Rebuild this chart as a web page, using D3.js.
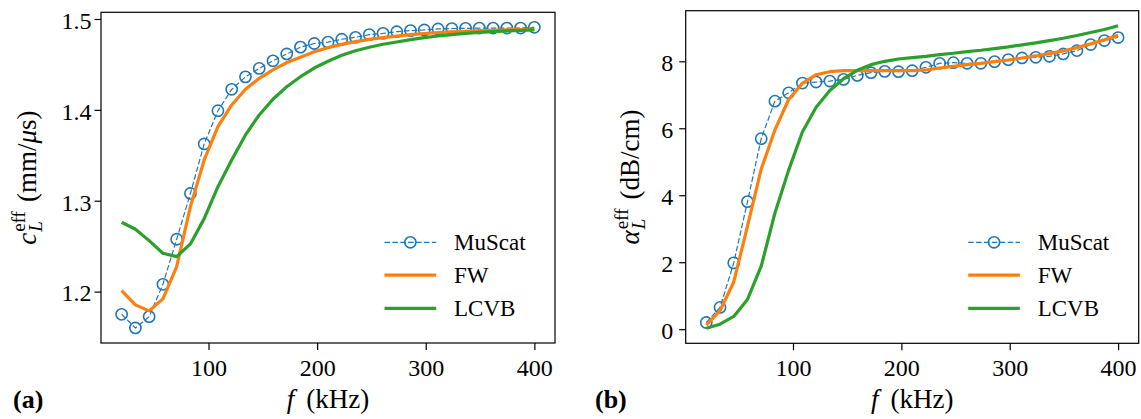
<!DOCTYPE html>
<html><head><meta charset="utf-8">
<script src="https://cdn.jsdelivr.net/npm/d3@7"></script>
<style>
body{margin:0;background:#fff}
svg{display:block}
text{font-family:"Liberation Serif","Times New Roman",serif;fill:#000}
</style>
</head><body>
<svg id="chart" width="1141" height="419"></svg>
<script>
// ---- data ----
const freqs = [20, 32.67, 45.33, 58, 70.67, 83.33, 96, 108.67, 121.33, 134, 146.67, 159.33, 172, 184.67, 197.33, 210,
  222.67, 235.33, 248, 260.67, 273.33, 286, 298.67, 311.33, 324, 336.67, 349.33, 362, 374.67, 387.33, 400];

const cMuScat = [1.175, 1.160, 1.1725, 1.208, 1.2576, 1.308, 1.3625, 1.399, 1.4226, 1.4363, 1.4456, 1.454, 1.4615, 1.469, 1.473, 1.4745,
  1.4777, 1.4798, 1.4828, 1.4842, 1.486, 1.4872, 1.4879, 1.489, 1.4894, 1.4897, 1.490, 1.490, 1.490, 1.490, 1.4908];
const cFW = [1.2011, 1.1854, 1.1788, 1.192, 1.2275, 1.2935, 1.3449, 1.3815, 1.4054, 1.4226, 1.4347, 1.4439, 1.452, 1.4579, 1.464, 1.4685,
  1.472, 1.475, 1.4775, 1.4795, 1.4812, 1.4827, 1.484, 1.485, 1.4858, 1.4865, 1.4871, 1.4876, 1.488, 1.4884, 1.4887];
const cLCVB = [1.2763, 1.2686, 1.2561, 1.2422, 1.2385, 1.2525, 1.2803, 1.3155, 1.3449, 1.3724, 1.3944, 1.4117, 1.4255, 1.4365, 1.446, 1.4535,
  1.46, 1.4651, 1.4689, 1.4722, 1.4747, 1.4772, 1.4794, 1.4813, 1.4828, 1.4842, 1.4853, 1.486, 1.4868, 1.4875, 1.4879];

const aMuScat = [0.2, 0.65, 1.98, 3.81, 5.69, 6.81, 7.06, 7.35, 7.38, 7.41, 7.46, 7.58, 7.66, 7.70, 7.69, 7.72,
  7.82, 7.94, 7.96, 7.94, 7.94, 7.99, 8.05, 8.10, 8.12, 8.15, 8.22, 8.32, 8.50, 8.62, 8.71];
const aFW = [0.12, 0.55, 1.41, 3.08, 4.78, 5.95, 6.86, 7.34, 7.60, 7.69, 7.72, 7.72, 7.72, 7.72, 7.72, 7.72,
  7.74, 7.80, 7.85, 7.90, 7.94, 7.99, 8.04, 8.10, 8.16, 8.23, 8.31, 8.41, 8.52, 8.64, 8.78];
const aLCVB = [0.03, 0.15, 0.38, 0.89, 1.88, 3.47, 4.75, 5.89, 6.63, 7.13, 7.48, 7.73, 7.90, 8.0, 8.07, 8.11,
  8.15, 8.20, 8.24, 8.29, 8.33, 8.38, 8.43, 8.49, 8.55, 8.62, 8.69, 8.77, 8.86, 8.95, 9.06];

const xTicks = [100, 200, 300, 400];
const cTicks = [1.2, 1.3, 1.4, 1.5];
const aTicks = [0, 2, 4, 6, 8];
const seriesNames = ["MuScat", "FW", "LCVB"];
const colors = {MuScat: "#1f77b4", FW: "#ff7f0e", LCVB: "#2ca02c"};

// ---- drawing ----
const svg = d3.select("#chart");

function measure(txt, fs, italic) {
  const t = svg.append("text").attr("font-size", fs).attr("font-style", italic ? "italic" : null).text(txt);
  const w = t.node().getComputedTextLength();
  t.remove();
  return w;
}

function padDomain(arrs) {
  const all = arrs.flat();
  const lo = d3.min(all), hi = d3.max(all);
  const m = (hi - lo) * 0.05;
  return [lo - m, hi + m];
}

function panel(cfg) {
  const {left, top, right, bottom} = cfg.box;
  const g = svg.append("g");
  const x = d3.scaleLinear().domain(padDomain([freqs])).range([left, right]);
  const y = d3.scaleLinear().domain(padDomain(cfg.series)).range([bottom, top]);

  // axes
  const xa = g.append("g").attr("transform", `translate(0,${bottom})`)
    .call(d3.axisBottom(x).tickValues(xTicks).tickSize(7).tickPadding(8.7).tickFormat(d3.format("d")));
  const ya = g.append("g").attr("transform", `translate(${left},0)`)
    .call(d3.axisLeft(y).tickValues(cfg.yTicks).tickSize(6.5).tickPadding(cfg.yPad).tickFormat(cfg.yFmt));
  [xa, ya].forEach(a => {
    a.select(".domain").remove();
    a.selectAll(".tick line").attr("stroke", "#000").attr("stroke-width", 1.2);
    a.selectAll(".tick text").attr("font-size", 24).attr("font-family", '"Liberation Serif",serif').attr("fill", "#000");
  });
  ya.selectAll(".tick text").attr("dy", "0.39em");

  const clipId = "clip" + cfg.id;
  g.append("clipPath").attr("id", clipId).append("rect")
    .attr("x", left).attr("y", top).attr("width", right - left).attr("height", bottom - top);
  const plot = g.append("g").attr("clip-path", `url(#${clipId})`);

  const line = d3.line().x((d, i) => x(freqs[i])).y(d => y(d));
  const [mus, fw, lcvb] = cfg.series;
  plot.append("path").datum(mus).attr("d", line).attr("fill", "none")
    .attr("stroke", colors.MuScat).attr("stroke-width", 1.2).attr("stroke-dasharray", "5.5,2.4");
  plot.selectAll("circle.m").data(mus).enter().append("circle").attr("class", "m")
    .attr("cx", (d, i) => x(freqs[i])).attr("cy", d => y(d)).attr("r", 5.6)
    .attr("fill", "none").attr("stroke", colors.MuScat).attr("stroke-width", 1.6);
  plot.append("path").datum(fw).attr("d", line).attr("fill", "none")
    .attr("stroke", colors.FW).attr("stroke-width", 3.2).attr("stroke-linejoin", "round");
  plot.append("path").datum(lcvb).attr("d", line).attr("fill", "none")
    .attr("stroke", colors.LCVB).attr("stroke-width", 3.2).attr("stroke-linejoin", "round");

  // frame
  g.append("rect").attr("x", left).attr("y", top).attr("width", right - left).attr("height", bottom - top)
    .attr("fill", "none").attr("stroke", "#000").attr("stroke-width", 1.2);

  // legend
  const lx0 = right - 170.5, lx1 = lx0 + 51.7, tx = lx0 + 69.5;
  const rows = [242.3, 275.2, 308.3];
  seriesNames.forEach((name, i) => {
    const ry = rows[i];
    const lg = g.append("g");
    if (name === "MuScat") {
      lg.append("line").attr("x1", lx0).attr("x2", lx1).attr("y1", ry).attr("y2", ry)
        .attr("stroke", colors.MuScat).attr("stroke-width", 1.2).attr("stroke-dasharray", "5.5,2.4");
      lg.append("circle").attr("cx", (lx0 + lx1) / 2).attr("cy", ry).attr("r", 5.6)
        .attr("fill", "none").attr("stroke", colors.MuScat).attr("stroke-width", 1.6);
    } else {
      lg.append("line").attr("x1", lx0).attr("x2", lx1).attr("y1", ry).attr("y2", ry)
        .attr("stroke", colors[name]).attr("stroke-width", 3.2);
    }
    lg.append("text").attr("x", tx).attr("y", ry + 7.7).attr("font-size", 23).text(name);
  });

  // x label: f (kHz)
  const xl = g.append("text").attr("x", (left + right) / 2).attr("y", 408).attr("font-size", 27).attr("text-anchor", "middle");
  xl.append("tspan").attr("font-style", "italic").text("f");
  xl.append("tspan").attr("dx", 12).text("(kHz)");

  // y label: sym_L^eff (unit)
  const fs = 27, small = 19;
  const wEff = measure("eff", small, false), wL = measure("L", small, true);
  const yl = g.append("text").attr("font-size", fs).attr("text-anchor", "middle")
    .attr("transform", `translate(${cfg.yLabelX},${(top + bottom) / 2}) rotate(-90)`);
  yl.append("tspan").attr("font-style", "italic").text(cfg.sym);
  yl.append("tspan").attr("font-size", small).attr("dy", -11).attr("dx", 1).text("eff");
  yl.append("tspan").attr("font-size", small).attr("font-style", "italic").attr("dx", -wEff).attr("dy", 17).text("L");
  yl.append("tspan").attr("dx", (wEff - wL) + 9).attr("dy", -6).text("(" + cfg.unitA);
  if (cfg.unitMu) {
    yl.append("tspan").attr("font-style", "italic").text("\u03bc");
    yl.append("tspan").text("s)");
  } else {
    yl.append("tspan").text(")");
  }

  // panel tag
  svg.append("text").attr("x", cfg.tagX).attr("y", 408).attr("font-size", 26).attr("font-weight", "bold").text(cfg.tag);
}

panel({
  id: "a", box: {left: 101, top: 12.3, right: 555, bottom: 343},
  series: [cMuScat, cFW, cLCVB], yTicks: cTicks, yFmt: d3.format(".1f"), yPad: 3,
  sym: "c", unitA: "mm/", unitMu: true, yLabelX: 36, tag: "(a)", tagX: 13
});
panel({
  id: "b", box: {left: 685.7, top: 10.7, right: 1138.7, bottom: 343.3},
  series: [aMuScat, aFW, aLCVB], yTicks: aTicks, yFmt: d3.format("d"), yPad: 6,
  sym: "\u03b1", unitA: "dB/cm", unitMu: false, yLabelX: 639, tag: "(b)", tagX: 595
});
</script>
</body></html>
